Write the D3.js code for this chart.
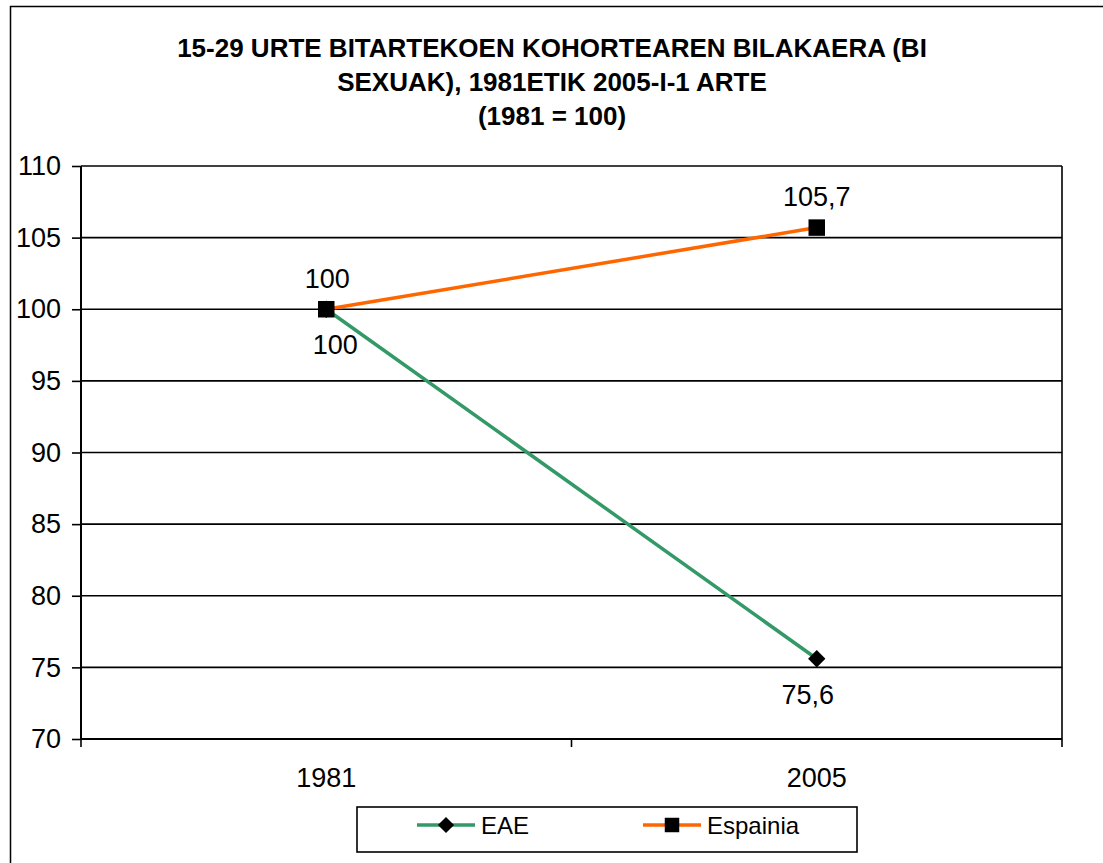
<!DOCTYPE html>
<html>
<head>
<meta charset="utf-8">
<script src="https://cdn.jsdelivr.net/npm/d3@7"></script>
<style>
body { margin: 0; background: #fff; }
svg text { font-family: "Liberation Sans", Arial, sans-serif; }
</style>
</head>
<body>
<svg></svg>
<script>
var screen = {width: 1103, height: 863};
var margins = {top: 166, right: 40, bottom: 124, left: 81};

var years = ["1981", "2005"];
var eae = [100, 75.6];
var espainia = [100, 105.7];
var eaeLabels = ["100", "75,6"];
var espLabels = ["100", "105,7"];
var yTicks = [70, 75, 80, 85, 90, 95, 100, 105, 110];
var titleLines = ["15-29 URTE BITARTEKOEN KOHORTEAREN BILAKAERA (BI", "SEXUAK), 1981ETIK 2005-I-1 ARTE", "(1981 = 100)"];

var width = 1062 - margins.left;
var height = 739 - margins.top;

var svg = d3.select("svg")
    .attr("width", screen.width)
    .attr("height", screen.height);

// outer chart border
svg.append("rect")
    .attr("x", 10.5).attr("y", 6.5)
    .attr("width", 1100).attr("height", 870)
    .attr("fill", "none")
    .attr("stroke", "#000")
    .attr("stroke-width", 1.5);

svg.append("g").attr("id", "title")
    .selectAll("text")
    .data(titleLines)
    .enter()
    .append("text")
    .attr("x", 552)
    .attr("y", function(d, i) { return 57 + i * 34; })
    .attr("text-anchor", "middle")
    .style("font-size", "26px")
    .style("font-weight", "bold")
    .text(function(d) { return d; });

var g = svg.append("g")
    .attr("id", "graph")
    .attr("transform", "translate(" + margins.left + "," + margins.top + ")");

var xScale = d3.scalePoint()
    .domain(years)
    .range([0, width])
    .padding(0.5);

var yScale = d3.scaleLinear()
    .domain([70, 110])
    .range([height, 0]);

// gridlines
g.selectAll(".grid")
    .data(yTicks)
    .enter()
    .append("line")
    .attr("x1", 0).attr("x2", width)
    .attr("y1", function(d) { return yScale(d); })
    .attr("y2", function(d) { return yScale(d); })
    .attr("stroke", "#000")
    .attr("stroke-width", 1.6);

// right frame
g.append("line")
    .attr("x1", width).attr("x2", width)
    .attr("y1", 0).attr("y2", height)
    .attr("stroke", "#000").attr("stroke-width", 1.6);

var yAxis = d3.axisLeft(yScale).tickValues(yTicks).tickSize(9).tickPadding(11);
g.append("g").attr("id", "yAxis").call(yAxis)
    .call(function(s) {
        s.select(".domain").attr("stroke-width", 2).attr("d", "M0,0V" + height);
        s.selectAll(".tick line").attr("stroke-width", 1.6);
        s.selectAll("text").style("font-size", "27px").style("font-family", "Liberation Sans, Arial, sans-serif").attr("fill", "#000");
    });

// x axis with ticks between categories
var step = xScale.step();
var xTickPos = [0, step, 2 * step];
var xa = g.append("g").attr("id", "xAxis").attr("transform", "translate(0," + height + ")");
xa.append("line").attr("x1", 0).attr("x2", width).attr("stroke", "#000").attr("stroke-width", 2);
xa.selectAll(".xt")
    .data(xTickPos)
    .enter()
    .append("line")
    .attr("x1", function(d) { return d; })
    .attr("x2", function(d) { return d; })
    .attr("y1", 0).attr("y2", 8)
    .attr("stroke", "#000").attr("stroke-width", 1.6);
xa.selectAll("text")
    .data(years)
    .enter()
    .append("text")
    .attr("x", function(d) { return xScale(d); })
    .attr("y", 48)
    .attr("text-anchor", "middle")
    .style("font-size", "27px")
    .text(function(d) { return d; });

var diamond = {
    draw: function(ctx, size) {
        var r = Math.sqrt(size / 2);
        ctx.moveTo(0, -r); ctx.lineTo(r, 0); ctx.lineTo(0, r); ctx.lineTo(-r, 0); ctx.closePath();
    }
};

var series = [
    {name: "EAE", values: eae, labels: eaeLabels, color: "#339966", shape: diamond, size: 150, legSize: 130, dy: [45, 45], dx: [9, -9]},
    {name: "Espainia", values: espainia, labels: espLabels, color: "#ff6600", shape: d3.symbolSquare, size: 272, legSize: 210, dy: [-21, -22], dx: [1, 0]}
];

var lineGenerator = d3.line()
    .x(function(d, i) { return xScale(years[i]); })
    .y(function(d) { return yScale(d); });

series.forEach(function(s) {
    g.append("path")
        .datum(s.values)
        .attr("fill", "none")
        .attr("stroke", s.color)
        .attr("stroke-width", 3.5)
        .attr("d", lineGenerator);
});

series.forEach(function(s) {
    g.selectAll(".m-" + s.name)
        .data(s.values)
        .enter()
        .append("path")
        .attr("d", d3.symbol().type(s.shape).size(s.size))
        .attr("transform", function(d, i) { return "translate(" + xScale(years[i]) + "," + yScale(d) + ")"; })
        .attr("fill", "#000");
    g.selectAll(".l-" + s.name)
        .data(s.values)
        .enter()
        .append("text")
        .attr("x", function(d, i) { return xScale(years[i]) + s.dx[i]; })
        .attr("y", function(d, i) { return yScale(d) + s.dy[i]; })
        .attr("text-anchor", "middle")
        .style("font-size", "27px")
        .text(function(d, i) { return s.labels[i]; });
});

// legend
var legend = svg.append("g").attr("id", "legend");
legend.append("rect")
    .attr("x", 357).attr("y", 807)
    .attr("width", 500).attr("height", 45)
    .attr("fill", "#fff")
    .attr("stroke", "#000")
    .attr("stroke-width", 1.6);

var legendX = [417, 643];
var gs = legend.selectAll(".item")
    .data(series)
    .enter()
    .append("g")
    .attr("transform", function(d, i) { return "translate(" + legendX[i] + ",825)"; });
gs.append("line")
    .attr("x1", 0).attr("x2", 58)
    .attr("stroke", function(d) { return d.color; })
    .attr("stroke-width", 3.5);
gs.append("path")
    .attr("d", function(d) { return d3.symbol().type(d.shape).size(d.legSize)(); })
    .attr("transform", "translate(29,0)")
    .attr("fill", "#000");
gs.append("text")
    .attr("x", 64)
    .attr("y", 9)
    .style("font-size", "24px")
    .text(function(d) { return d.name; });
</script>
</body>
</html>
